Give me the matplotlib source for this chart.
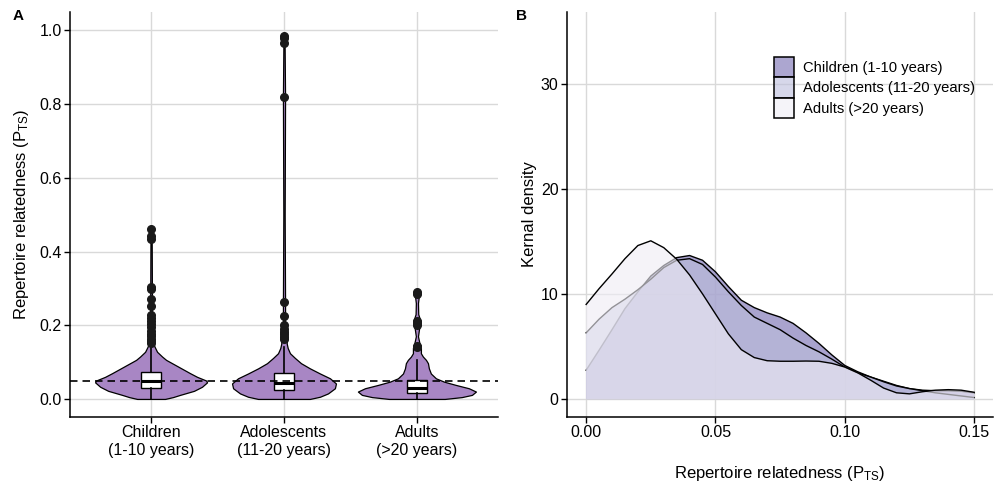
import matplotlib
matplotlib.use("Agg")
import matplotlib.pyplot as plt
from matplotlib.patches import Patch
from matplotlib.colors import to_rgba
import numpy as np

plt.rcParams['font.family'] = ['Liberation Sans', 'DejaVu Sans']
plt.rcParams['mathtext.fontset'] = 'custom'
plt.rcParams['mathtext.rm'] = 'Liberation Sans'
plt.rcParams['mathtext.it'] = 'Liberation Sans:italic'

# ---------------- Panel A data ----------------
groups = ["Children\n(1-10 years)", "Adolescents\n(11-20 years)", "Adults\n(>20 years)"]

# violin outline profiles: value, half-width (in category units)
child_v = [0.000, 0.005, 0.011, 0.022, 0.033, 0.045, 0.050, 0.060, 0.070, 0.079, 0.088, 0.097,
           0.106, 0.115, 0.128, 0.142, 0.155, 0.200, 0.300, 0.400, 0.462]
child_w = [0.105, 0.165, 0.218, 0.323, 0.383, 0.421, 0.414, 0.346, 0.293, 0.248, 0.203, 0.158,
           0.113, 0.083, 0.045, 0.026, 0.014, 0.008, 0.006, 0.005, 0.004]
adol_v = [0.000, 0.006, 0.015, 0.029, 0.042, 0.056, 0.069, 0.083, 0.097, 0.111, 0.124, 0.138,
          0.151, 0.170, 0.185, 0.210, 0.260, 0.500, 0.820, 0.985]
adol_w = [0.195, 0.271, 0.331, 0.383, 0.391, 0.346, 0.271, 0.195, 0.128, 0.083, 0.045, 0.028,
          0.020, 0.026, 0.024, 0.008, 0.008, 0.005, 0.008, 0.004]
adult_v = [0.000, 0.005, 0.011, 0.020, 0.029, 0.038, 0.047, 0.056, 0.069, 0.083, 0.097, 0.106,
           0.115, 0.124, 0.138, 0.150, 0.170, 0.190, 0.210, 0.230, 0.260, 0.290]
adult_w = [0.210, 0.338, 0.414, 0.444, 0.391, 0.293, 0.203, 0.143, 0.105, 0.090, 0.083, 0.068,
           0.045, 0.030, 0.030, 0.020, 0.008, 0.016, 0.028, 0.010, 0.008, 0.018]

# box statistics
box_q1 = [0.029, 0.024, 0.015]
box_med = [0.048, 0.043, 0.031]
box_q3 = [0.074, 0.070, 0.052]
box_lo = [0.0, 0.0, 0.0]
box_hi = [0.145, 0.140, 0.106]
child_out = [0.462, 0.441, 0.434, 0.305, 0.298, 0.271, 0.252, 0.228, 0.220, 0.212, 0.203,
             0.195, 0.185, 0.177, 0.170, 0.163, 0.157, 0.152]
adol_out = [0.985, 0.980, 0.966, 0.819, 0.264, 0.226, 0.201, 0.190, 0.182, 0.175, 0.169, 0.163]
adult_out = [0.289, 0.286, 0.212, 0.206, 0.200, 0.145, 0.140]
ref_line = 0.048

# ---------------- Panel B data ----------------
dens_x = [0.000, 0.005, 0.010, 0.015, 0.020, 0.025, 0.030, 0.035, 0.040, 0.045, 0.050,
          0.055, 0.060, 0.065, 0.070, 0.075, 0.080, 0.085, 0.090, 0.095, 0.100,
          0.105, 0.110, 0.115, 0.120, 0.125, 0.130, 0.135, 0.140, 0.145, 0.150]
dens_child = [2.75, 4.65, 6.6, 8.6, 10.2, 11.7, 12.7, 13.45, 13.65, 13.2, 12.1,
              10.7, 9.4, 8.7, 8.2, 7.8, 7.2, 6.3, 5.3, 4.2, 3.2,
              2.6, 2.1, 1.7, 1.3, 1.0, 0.85, 0.8, 0.8, 0.75, 0.6]
dens_adol = [6.3, 7.6, 8.7, 9.5, 10.4, 11.4, 12.5, 13.2, 13.35, 12.8, 11.6,
             10.2, 8.9, 7.8, 7.2, 6.6, 5.8, 5.1, 4.5, 3.8, 3.05,
             2.5, 2.1, 1.65, 1.25, 1.0, 0.8, 0.6, 0.45, 0.3, 0.15]
dens_adult = [9.0, 10.5, 11.9, 13.35, 14.6, 15.05, 14.4, 13.3, 11.8, 10.0, 8.1,
              6.2, 4.7, 3.95, 3.65, 3.6, 3.6, 3.62, 3.6, 3.4, 3.05,
              2.5, 1.8, 1.05, 0.6, 0.5, 0.7, 0.85, 0.9, 0.85, 0.65]
dens_labels = ["Children (1-10 years)", "Adolescents (11-20 years)", "Adults (>20 years)"]
dens_colors = ["#756bb1", "#bcbddc", "#efedf5"]
fill_alpha = 0.62

# ---------------- Figure ----------------
fig = plt.figure(figsize=(9.95, 4.87), dpi=100)
axA = fig.add_axes([70/995, 1-417/487, 428/995, 405/487])
axB = fig.add_axes([567/995, 1-417/487, 426/995, 405/487])

grid_c = "#d9d9d9"
for ax in (axA, axB):
    ax.set_axisbelow(True)
    ax.grid(True, color=grid_c, lw=1.0)
    for s in ("top", "right"):
        ax.spines[s].set_visible(False)
    for s in ("left", "bottom"):
        ax.spines[s].set_linewidth(1.1)
    ax.tick_params(length=4, width=1, labelsize=11.5, pad=2, colors="black")

# Panel A violins
vio_fill = "#a886c4"
profiles = [(child_v, child_w), (adol_v, adol_w), (adult_v, adult_w)]
for i, (v, w) in enumerate(profiles):
    pos = i + 1
    v = np.asarray(v); w = np.asarray(w)
    axA.fill_betweenx(v, pos - w, pos + w, facecolor=vio_fill, edgecolor="black", lw=0.9, zorder=2)

stats = []
fliers = [child_out, adol_out, adult_out]
for i in range(3):
    stats.append(dict(med=box_med[i], q1=box_q1[i], q3=box_q3[i],
                      whislo=box_lo[i], whishi=box_hi[i], fliers=fliers[i]))
axA.bxp(stats, positions=[1, 2, 3], widths=0.15, patch_artist=True, showcaps=False,
        boxprops=dict(facecolor="white", edgecolor="black", lw=1.0),
        medianprops=dict(color="black", lw=2.2),
        whiskerprops=dict(color="black", lw=1.2),
        flierprops=dict(marker="o", markerfacecolor="#1a1a1a", markeredgecolor="#1a1a1a",
                        markersize=5.5),
        zorder=3, manage_ticks=False)
axA.axhline(ref_line, color="black", lw=1.2, ls=(0, (4.5, 3)), zorder=4)

axA.set_xlim(0.39, 3.61)
axA.set_ylim(-0.049, 1.05)
axA.set_xticks([1, 2, 3])
axA.set_xticklabels(groups)
axA.set_yticks([0, 0.2, 0.4, 0.6, 0.8, 1.0])
axA.set_yticklabels(["0.0", "0.2", "0.4", "0.6", "0.8", "1.0"])
axA.set_ylabel("Repertoire relatedness (P$_{\\mathrm{TS}}$)", fontsize=12, labelpad=6)

# Panel B densities
dx = np.asarray(dens_x)
for k, (d, c) in enumerate(zip([dens_child, dens_adol, dens_adult], dens_colors)):
    axB.fill_between(dx, 0, d, facecolor=to_rgba(c, fill_alpha), lw=0, zorder=2 + 2*k)
    axB.plot(dx, d, color="black", lw=1.0, zorder=3 + 2*k)

axB.set_xlim(-0.0074, 0.1573)
axB.set_ylim(-1.7, 36.8)
axB.set_xticks([0, 0.05, 0.10, 0.15])
axB.set_xticklabels(["0.00", "0.05", "0.10", "0.15"])
axB.set_yticks([0, 10, 20, 30])
axB.set_ylabel("Kernal density", fontsize=12, labelpad=3)
axB.set_xlabel("Repertoire relatedness (P$_{\\mathrm{TS}}$)", fontsize=12, labelpad=17)

handles = [Patch(facecolor=to_rgba(c, 0.6), edgecolor="black", lw=1.1) for c in dens_colors]
leg = axB.legend(handles, dens_labels, loc="upper left", bbox_to_anchor=(0.486, 0.889),
                 frameon=False, fontsize=10.6, borderpad=0, borderaxespad=0,
                 handlelength=1.35, handleheight=1.75, labelspacing=0.0, handletextpad=0.6)

fig.text(13/995, 1-16/487, "A", fontsize=11, fontweight="bold", va="center", ha="left")
fig.text(516/995, 1-16/487, "B", fontsize=11, fontweight="bold", va="center", ha="left")

fig.savefig("out.png", dpi=100)
